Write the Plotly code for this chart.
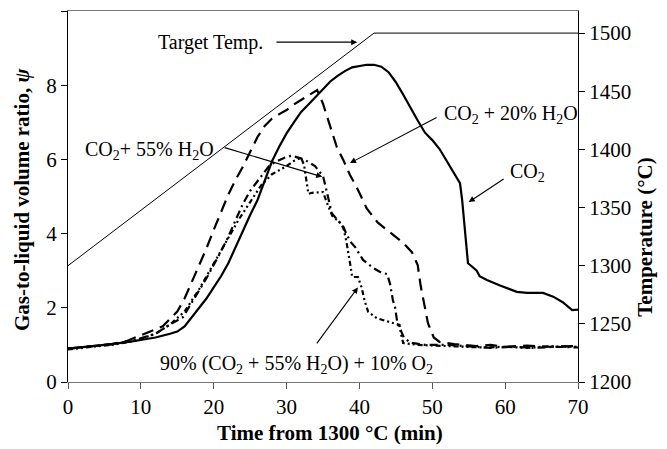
import plotly.graph_objects as go

# ---- data ----
t_co2 = [0, 3, 6, 9, 12, 14, 15, 16, 17, 18, 19, 20, 21, 22, 23, 24, 25, 26, 27, 28, 29, 30,
         31, 32, 33, 34, 35, 36, 37, 38, 39, 40, 41, 42, 43, 44, 45, 46, 47, 48, 49, 50, 51,
         52, 53, 53.8, 54.1, 54.4, 54.7, 54.9, 55.4, 56.1, 56.5, 57.5, 59.3, 60.5, 61.6, 63,
         65.2, 66.6, 67.9, 69.2, 70]
psi_co2 = [0.9, 0.95, 1.02, 1.1, 1.2, 1.3, 1.36, 1.5, 1.75, 2.0, 2.25, 2.55, 2.85, 3.2, 3.65,
           4.1, 4.5, 4.9, 5.4, 5.95, 6.35, 6.7, 7.0, 7.28, 7.48, 7.68, 7.88, 8.1, 8.25, 8.38,
           8.48, 8.52, 8.55, 8.55, 8.5, 8.35, 8.08, 7.75, 7.38, 7.05, 6.72, 6.52, 6.28, 5.95,
           5.6, 5.36, 4.9, 4.3, 3.6, 3.2, 3.12, 3.0, 2.85, 2.75, 2.6, 2.5, 2.43, 2.4, 2.4, 2.3,
           2.15, 1.94, 1.95]

t_h2o20 = [0, 3, 6, 8, 10, 12, 13, 14, 15, 16, 17, 18, 19, 20, 21, 22, 23, 24, 25, 26, 27, 28,
           29, 30, 31, 32, 33, 34.2, 35, 36, 36.9, 37.8, 38.7, 39.6, 41, 42.5, 44.6, 46, 47.2,
           48, 48.4, 48.8, 49.4, 50.2, 51, 53, 56, 58, 60, 63, 66, 70]
psi_h2o20 = [0.9, 0.95, 1.02, 1.1, 1.25, 1.42, 1.5, 1.7, 1.9, 2.25, 2.7, 3.15, 3.6, 4.1, 4.6,
             5.05, 5.45, 5.8, 6.2, 6.6, 6.9, 7.1, 7.22, 7.33, 7.48, 7.6, 7.72, 7.87, 7.5, 6.88,
             6.33, 5.98, 5.58, 5.26, 4.68, 4.3, 3.96, 3.75, 3.5, 3.15, 2.6, 2.2, 1.59, 1.2, 1.08,
             1.02, 0.97, 1.0, 0.95, 0.98, 0.95, 0.97]

t_h2o55 = [0, 3, 6, 9, 12, 14, 15.8, 17.2, 19.1, 20.4, 21.8, 23.2, 24, 25, 26.2, 27.7, 28.7,
           29.8, 30.7, 31.5, 32.4, 33.9, 35, 35.5, 36.2, 37.3, 37.8, 38.3, 38.9, 39.4, 40.5,
           41.9, 43, 43.8, 44.2, 44.6, 44.9, 45.2, 45.6, 46.1, 47, 49, 52, 55, 58, 61, 64, 67, 70]
psi_h2o55 = [0.9, 0.95, 1.02, 1.12, 1.3, 1.55, 1.75, 2.21, 2.83, 3.3, 3.83, 4.45, 4.8, 5.15,
             5.45, 5.85, 5.95, 6.05, 6.1, 6.06, 6.0, 5.82, 5.55, 5.15, 4.55, 4.3, 4.18, 3.95,
             3.75, 3.64, 3.29, 3.07, 2.95, 2.91, 2.65, 2.2, 2.0, 1.6, 1.4, 1.2, 1.06, 1.0, 1.0,
             0.95, 0.92, 0.95, 0.92, 0.95, 0.93]

t_o2 = [0, 3, 6, 9, 12, 14, 16, 18, 20, 22, 23.5, 25, 26.5, 28, 30, 31, 32, 32.4, 32.7, 33,
        33.5, 35, 35.5, 36.3, 37.3, 37.8, 38.2, 38.5, 38.8, 39, 39.8, 40.3, 40.7, 41.2, 42.4,
        44.4, 45.5, 45.7, 46, 48, 51, 54, 57, 60, 63, 66, 70]
psi_o2 = [0.88, 0.95, 1.0, 1.1, 1.3, 1.55, 1.9, 2.5, 3.2, 3.9, 4.4, 4.85, 5.3, 5.6, 5.82, 5.96,
          6.04, 5.85, 5.4, 5.07, 5.1, 5.12, 4.85, 4.47, 4.3, 4.15, 3.8, 3.5, 3.1, 2.83, 2.83,
          2.55, 2.2, 1.89, 1.72, 1.6, 1.54, 1.3, 1.05, 1.0, 0.98, 0.97, 0.93, 0.95, 0.92, 0.96,
          0.95]

t_target = [0, 42, 70]
temp_target = [1300, 1500, 1500]

x_ticks = [0, 10, 20, 30, 40, 50, 60, 70]
psi_ticks = [0, 2, 4, 6, 8, 10]
temp_ticks = [1200, 1250, 1300, 1350, 1400, 1450, 1500]

FONT = "Liberation Serif"

fig = go.Figure()
fig.add_trace(go.Scatter(x=t_target, y=temp_target, yaxis="y2", mode="lines",
                         line=dict(color="black", width=1), showlegend=False))
fig.add_trace(go.Scatter(x=t_co2, y=psi_co2, mode="lines",
                         line=dict(color="black", width=2.2), showlegend=False))
fig.add_trace(go.Scatter(x=t_h2o20, y=psi_h2o20, mode="lines",
                         line=dict(color="black", width=2.2, dash="12px,7px"), showlegend=False))
fig.add_trace(go.Scatter(x=t_h2o55, y=psi_h2o55, mode="lines",
                         line=dict(color="black", width=2.2, dash="8px,4px,2px,4px"), showlegend=False))
fig.add_trace(go.Scatter(x=t_o2, y=psi_o2, mode="lines",
                         line=dict(color="black", width=2.2, dash="5px,3px,2px,3px,2px,3px"),
                         showlegend=False))

tf = dict(family=FONT, size=20, color="black")
ann = []
# text labels
ann.append(dict(x=27.0, y=9.16, xref="x", yref="y", text="Target Temp.", showarrow=False,
                xanchor="right", yanchor="middle", font=tf))
ann.append(dict(x=2.0, y=6.25, xref="x", yref="y", text="CO<sub>2</sub>+ 55% H<sub>2</sub>O",
                showarrow=False, xanchor="left", yanchor="middle", font=tf))
ann.append(dict(x=51.3, y=7.2, xref="x", yref="y", text="CO<sub>2</sub> + 20% H<sub>2</sub>O",
                showarrow=False, xanchor="left", yanchor="middle", font=tf))
ann.append(dict(x=60.4, y=5.66, xref="x", yref="y", text="CO<sub>2</sub>",
                showarrow=False, xanchor="left", yanchor="middle", font=tf))
ann.append(dict(x=31.4, y=0.48, xref="x", yref="y",
                text="90% (CO<sub>2</sub> + 55% H<sub>2</sub>O) + 10% O<sub>2</sub>",
                showarrow=False, xanchor="center", yanchor="middle", font=tf))
# arrows
arrows = [((39.7, 9.16), (28.4, 9.16)),
          ((34.9, 5.53), (21.3, 6.33)),
          ((38.7, 5.9), (50.8, 7.15)),
          ((55.0, 4.85), (60.0, 5.5)),
          ((39.8, 2.55), (34.0, 1.0))]
for (hx, hy), (tx, ty) in arrows:
    ann.append(dict(x=hx, y=hy, xref="x", yref="y", ax=tx, ay=ty, axref="x", ayref="y",
                    text="", showarrow=True, arrowhead=2, arrowsize=1.1, arrowwidth=1.1,
                    arrowcolor="black"))
# axis titles
title_font = dict(family=FONT, size=21, color="black")
ann.append(dict(x=0.514, y=-0.1375, xref="paper", yref="paper",
                text="<b>Time from 1300 °C (min)</b>", showarrow=False,
                xanchor="center", yanchor="middle", font=title_font))
ann.append(dict(x=-0.0902, y=0.493, xref="paper", yref="paper", textangle=-90,
                text="<b>Gas-to-liquid volume ratio, <i>ψ</i></b>", showarrow=False,
                xanchor="center", yanchor="middle", font=title_font))
ann.append(dict(x=1.131, y=0.391, xref="paper", yref="paper", textangle=-90,
                text="<b>Temperature (°C)</b>", showarrow=False,
                xanchor="center", yanchor="middle", font=title_font))

tick_font = dict(family=FONT, size=21, color="black")
fig.update_layout(
    width=667, height=449,
    margin=dict(l=68, r=89, t=11, b=67),
    paper_bgcolor="white", plot_bgcolor="white",
    showlegend=False,
    annotations=ann,
    xaxis=dict(range=[0, 70], tickvals=x_ticks, ticks="outside", ticklen=6, tickcolor="#555",
               showline=True, linecolor="#777", linewidth=1.2, mirror=True, showgrid=False,
               zeroline=False, tickfont=tick_font),
    yaxis=dict(range=[0, 10], tickvals=psi_ticks, ticks="outside", ticklen=6, tickcolor="black",
               showline=True, linecolor="black", linewidth=1.2, showgrid=False, zeroline=False,
               tickfont=tick_font),
    yaxis2=dict(range=[1200, 1519], tickvals=temp_ticks, ticks="outside", ticklen=6,
                tickcolor="black", overlaying="y", side="right", showline=True,
                linecolor="black", linewidth=1.2, showgrid=False, zeroline=False,
                tickfont=tick_font),
)

fig.write_html("out.html")
